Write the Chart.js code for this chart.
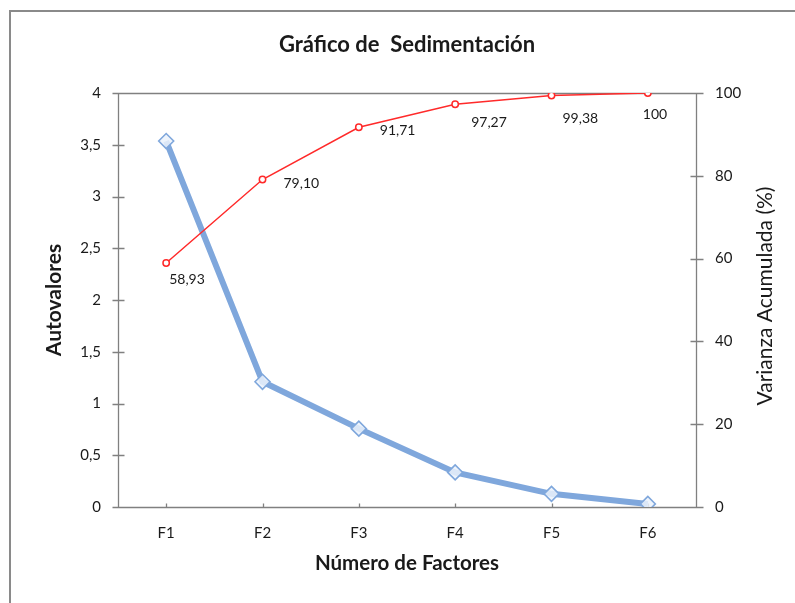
<!DOCTYPE html>
<html><head><meta charset="utf-8">
<script src="https://cdn.jsdelivr.net/npm/chart.js@4"></script>
<style>
html,body{margin:0;padding:0;background:#fff;overflow:hidden}
#wrap{position:relative;width:795px;height:603px;overflow:hidden}
#frame{position:absolute;left:9px;top:10px;width:900px;height:800px;border:2px solid #8a8a8a;box-sizing:border-box}
canvas{position:absolute;left:0;top:0}
</style></head><body>
<div id="wrap"><div id="frame"></div><canvas id="c" width="795" height="603"></canvas></div>
<script>
// ---- data ----
const categories = ['F1', 'F2', 'F3', 'F4', 'F5', 'F6'];
const eigenvalues = [3.536, 1.210, 0.757, 0.334, 0.127, 0.03];
const cumulativeVariance = [58.93, 79.10, 91.71, 97.27, 99.38, 100];
const leftTickValues = [0, 0.5, 1, 1.5, 2, 2.5, 3, 3.5, 4];
const rightTickValues = [0, 20, 40, 60, 80, 100];

// ---- styling (label offsets relative to each point, px) ----
const labelOffsets = [[3, 16], [21, 4], [21, 3], [16, 18], [11, 23], [-5, 21]];
const FONT = 'Lato';
const AXIS_GRAY = '#808080';
const TXT = '#1a1a1a';

function fmtComma(v) {
  return Number.isInteger(v) ? String(v) : String(v).replace('.', ',');
}
function fmtLabel(v) {
  return Number.isInteger(v) ? String(v) : v.toFixed(2).replace('.', ',');
}

const axesPlugin = {
  id: 'axesBox',
  beforeDatasetsDraw(chart) {
    const {ctx, chartArea: a, scales} = chart;
    const x = scales.x, y = scales.y, y1 = scales.y1;
    ctx.save();
    ctx.strokeStyle = AXIS_GRAY;
    ctx.lineWidth = 1.3;
    const L = Math.round(a.left) + 0.5, R = Math.round(a.right) + 0.5;
    const T = Math.round(a.top) + 0.5, B = Math.round(a.bottom) + 0.5;
    ctx.beginPath();
    ctx.moveTo(L, T); ctx.lineTo(R, T);
    ctx.moveTo(L, T); ctx.lineTo(L, B);
    ctx.moveTo(R, T); ctx.lineTo(R, B);
    ctx.moveTo(L - 6, B); ctx.lineTo(R + 7, B);
    y.ticks.forEach((t, i) => {
      const p = Math.round(y.getPixelForTick(i)) + 0.5;
      ctx.moveTo(L - 6, p); ctx.lineTo(L + 6, p);
    });
    y1.ticks.forEach((t, i) => {
      const p = Math.round(y1.getPixelForTick(i)) + 0.5;
      ctx.moveTo(R - 6, p); ctx.lineTo(R + 7, p);
    });
    x.ticks.forEach((t, i) => {
      const p = Math.round(x.getPixelForTick(i)) + 0.5;
      ctx.moveTo(p, B); ctx.lineTo(p, B - 4);
    });
    ctx.stroke();
    ctx.restore();
  },
  afterDatasetsDraw(chart) {
    const {ctx} = chart;
    const meta = chart.getDatasetMeta(0);
    ctx.save();
    ctx.font = '14px ' + FONT;
    ctx.fillStyle = TXT;
    ctx.textAlign = 'left';
    ctx.textBaseline = 'middle';
    meta.data.forEach((pt, i) => {
      const v = chart.data.datasets[0].data[i];
      const o = labelOffsets[i];
      ctx.fillText(fmtLabel(v), pt.x + o[0], pt.y + o[1]);
    });
    ctx.restore();
  },
  afterDraw(chart) {
    const {ctx, chartArea: a} = chart;
    ctx.save();
    ctx.font = '21px ' + FONT;
    ctx.fillStyle = TXT;
    ctx.textAlign = 'center';
    ctx.textBaseline = 'middle';
    ctx.translate(765, (a.top + a.bottom) / 2 - 4);
    ctx.rotate(-Math.PI / 2);
    ctx.fillText('Varianza Acumulada (%)', 0, 0);
    ctx.restore();
  }
};

Chart.defaults.font.family = FONT;
Chart.defaults.color = TXT;

new Chart(document.getElementById('c'), {
  type: 'line',
  data: {
    labels: categories,
    datasets: [
      {
        label: 'Varianza Acumulada (%)',
        data: cumulativeVariance,
        yAxisID: 'y1',
        borderColor: '#ff2a2a',
        borderWidth: 1.5,
        pointStyle: 'circle',
        pointRadius: 3.2,
        pointBackgroundColor: '#ffffff',
        pointBorderColor: '#ff2a2a',
        pointBorderWidth: 1.5,
        tension: 0,
        order: 0
      },
      {
        label: 'Autovalores',
        data: eigenvalues,
        yAxisID: 'y',
        borderColor: '#7fa7dc',
        borderWidth: 6,
        pointStyle: 'rectRot',
        pointRadius: 7.5,
        pointBackgroundColor: 'rgba(235,242,252,0.85)',
        pointBorderColor: '#7fa7dc',
        pointBorderWidth: 1.6,
        tension: 0,
        order: 1
      }
    ]
  },
  options: {
    responsive: false,
    animation: false,
    devicePixelRatio: 1,
    layout: {padding: 0},
    plugins: {
      legend: {display: false},
      tooltip: {enabled: false},
      title: {
        display: true,
        text: 'Gráfico de  Sedimentación',
        fullSize: false,
        color: TXT,
        font: {family: FONT, size: 22, weight: 'bold'},
        padding: {top: 31.8, bottom: 34.8}
      }
    },
    scales: {
      x: {
        type: 'category',
        offset: true,
        grid: {display: false, drawTicks: false},
        border: {display: false},
        ticks: {font: {size: 15}, padding: 17, color: TXT},
        title: {
          display: true,
          text: 'Número de Factores',
          color: TXT,
          font: {size: 20.5, weight: 'bold'},
          padding: {top: 0, bottom: 27.7}
        },
        afterFit(s) { s.height = 96; }
      },
      y: {
        position: 'left',
        min: 0, max: 4,
        afterBuildTicks(s) { s.ticks = leftTickValues.map(v => ({value: v})); },
        grid: {display: false, drawTicks: false},
        border: {display: false},
        ticks: {font: {size: 15}, padding: 17, color: TXT, callback: v => fmtComma(v)},
        title: {
          display: true,
          text: 'Autovalores',
          color: TXT,
          font: {size: 21, weight: 'bold'},
          padding: {top: 41.4, bottom: 0}
        },
        afterFit(s) { s.width = 118; }
      },
      y1: {
        position: 'right',
        min: 0, max: 100,
        afterBuildTicks(s) { s.ticks = rightTickValues.map(v => ({value: v})); },
        grid: {display: false, drawTicks: false},
        border: {display: false},
        ticks: {font: {size: 15}, padding: 19, color: TXT},
        afterFit(s) { s.width = 99; }
      }
    }
  },
  plugins: [axesPlugin]
});
</script>
</body></html>
